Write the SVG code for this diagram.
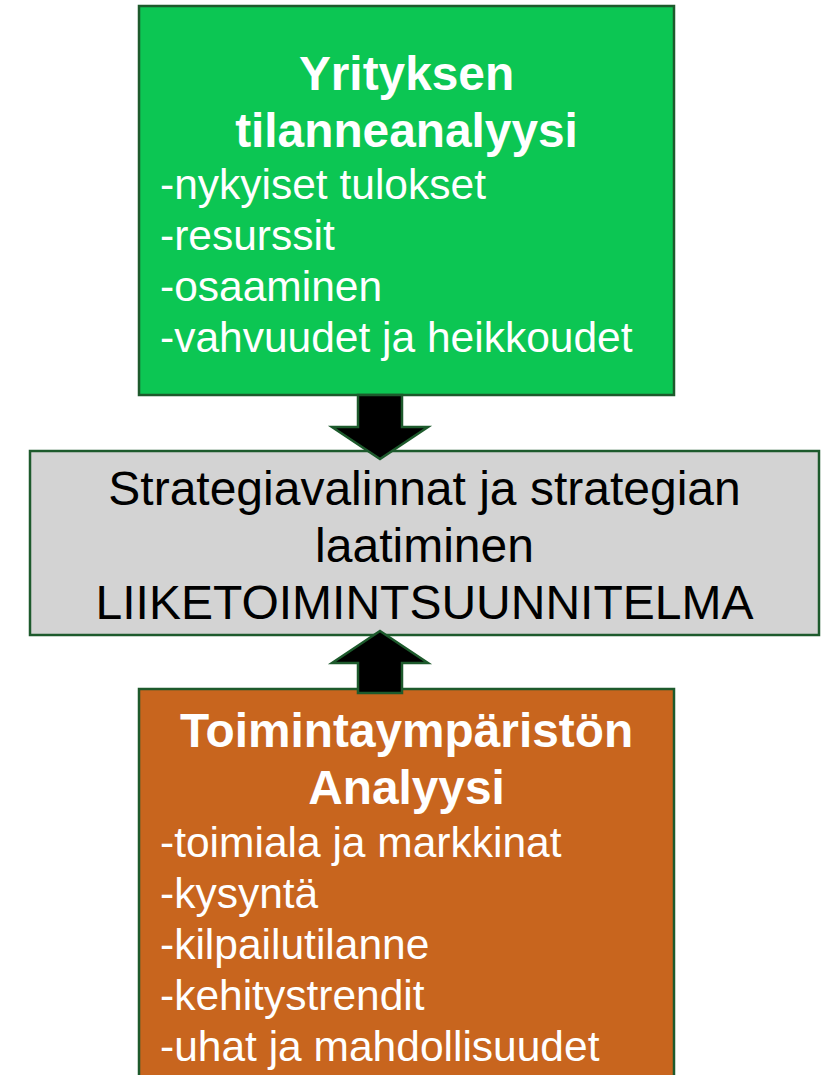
<svg xmlns="http://www.w3.org/2000/svg" width="823" height="1075" viewBox="0 0 823 1075">
  <style>
    .box { stroke: #1d5a2c; stroke-width: 2.5; }
    .title { font-family: "Liberation Sans", Arial, sans-serif; font-weight: bold; font-size: 47.8px; fill: #ffffff; text-anchor: middle; }
    .item { font-family: "Liberation Sans", Arial, sans-serif; font-size: 42.5px; fill: #ffffff; }
    .mid { font-family: "Liberation Sans", Arial, sans-serif; font-size: 48px; fill: #000000; text-anchor: middle; }
    .arrow { fill: #000000; stroke: #1d5a2c; stroke-width: 2.5; stroke-linejoin: miter; }
  </style>
  <rect width="823" height="1075" fill="#ffffff"/>
  <g id="node-yritys">
    <rect class="box" x="139" y="6" width="535" height="389" fill="#0cc653"/>
    <text class="title" x="406.5" y="90">Yrityksen</text>
    <text class="title" x="406.5" y="147">tilanneanalyysi</text>
    <text class="item" x="160" y="199">-nykyiset tulokset</text>
    <text class="item" x="160" y="250">-resurssit</text>
    <text class="item" x="160" y="301">-osaaminen</text>
    <text class="item" x="160" y="352">-vahvuudet ja heikkoudet</text>
  </g>
  <g id="node-strategia">
    <rect class="box" x="30" y="451" width="789" height="184" fill="#d3d3d3"/>
    <text class="mid" x="424.5" y="505">Strategiavalinnat ja strategian</text>
    <text class="mid" x="424.5" y="562">laatiminen</text>
    <text class="mid" x="424.5" y="619">LIIKETOIMINTSUUNNITELMA</text>
  </g>
  <g id="node-toimintaymparisto">
    <rect class="box" x="139" y="689" width="535" height="400" fill="#c8651e"/>
    <text class="title" x="406.5" y="747">Toimintaympäristön</text>
    <text class="title" x="406.5" y="804">Analyysi</text>
    <text class="item" x="160" y="857">-toimiala ja markkinat</text>
    <text class="item" x="160" y="908">-kysyntä</text>
    <text class="item" x="160" y="959">-kilpailutilanne</text>
    <text class="item" x="160" y="1010">-kehitystrendit</text>
    <text class="item" x="160" y="1061">-uhat ja mahdollisuudet</text>
  </g>
  <g id="connectors">
    <polygon class="arrow" points="358,395 402,395 402,427 428,427 380,459 332,427 358,427"/>
    <polygon class="arrow" points="380,631 428,663 402,663 402,693 358,693 358,663 332,663"/>
  </g>
</svg>
